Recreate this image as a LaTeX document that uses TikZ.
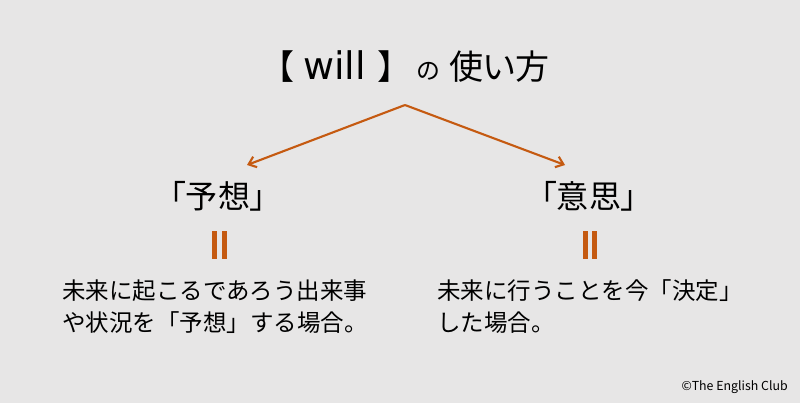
\documentclass[tikz,border=0pt]{standalone}
\usepackage{fontspec}
\setmainfont{Noto Sans CJK JP}
\newfontfamily\paltfont[RawFeature=+palt]{Noto Sans CJK JP}
\newfontfamily\latinfont{DejaVu Sans}
\usepackage{xcolor}
\usepackage{tikz}
\usetikzlibrary{arrows.meta,positioning,calc}
\definecolor{bggray}{HTML}{E7E6E6}
\definecolor{accent}{HTML}{C55A11}

\begin{document}
\begin{tikzpicture}[x=0.025cm, y=-0.025cm, >={Straight Barb[length=5pt,width=8pt]},
    heading/.style={inner sep=0pt, font=\paltfont\fontsize{22.8}{26}\selectfont},
    desc/.style={inner sep=0pt, align=left, anchor=west, font=\fontsize{16.7}{22.8}\selectfont},
    branch/.style={->, accent, line width=1.5pt},
    equal/.style={accent, line width=3.6pt}]
    \useasboundingbox[fill=bggray] (0,0) rectangle (800,403);

    \node [inner sep=0pt, anchor=base west, font=\paltfont\fontsize{24.2}{30}\selectfont] (title) at (276,79)
        {【\hspace{7pt}{\latinfont\fontsize{27}{30}\selectfont will}\hspace{9pt}】\hspace{15pt}{\fontsize{17}{20}\selectfont の}\hspace{7pt}使い方};

    \node [heading] (yosou) at (218,196) {「予想」};
    \node [heading] (ishi) at (589,196) {「意思」};

    % arrows from the title down to both cases
    \coordinate (apex) at (405,105);
    \coordinate (lefttip) at (247,165);
    \coordinate (righttip) at (565,165);
    \draw [branch] (apex) -- (lefttip);
    \draw [branch] (apex) -- (righttip);

    % the "=" signs
    \foreach \x in {214.5,224.5} {
        \draw [equal] ($(yosou.south)+(\x-218,20)$) -- ++(0,28);
    }
    \foreach \x in {585.5,594.5} {
        \draw [equal] ($(ishi.south)+(\x-589,20)$) -- ++(0,28);
    }

    \node [desc] (yosoutext) at (62,307) {未来に起こるであろう出来事\\や状況を「予想」する場合。};
    \node [desc] (ishitext) at (437,307) {未来に行うことを今「決定」\\した場合。};

    \node [inner sep=0pt, anchor=east, font=\fontsize{8.8}{11}\selectfont] (credit) at (788,387) {©The English Club};
\end{tikzpicture}
\end{document}
